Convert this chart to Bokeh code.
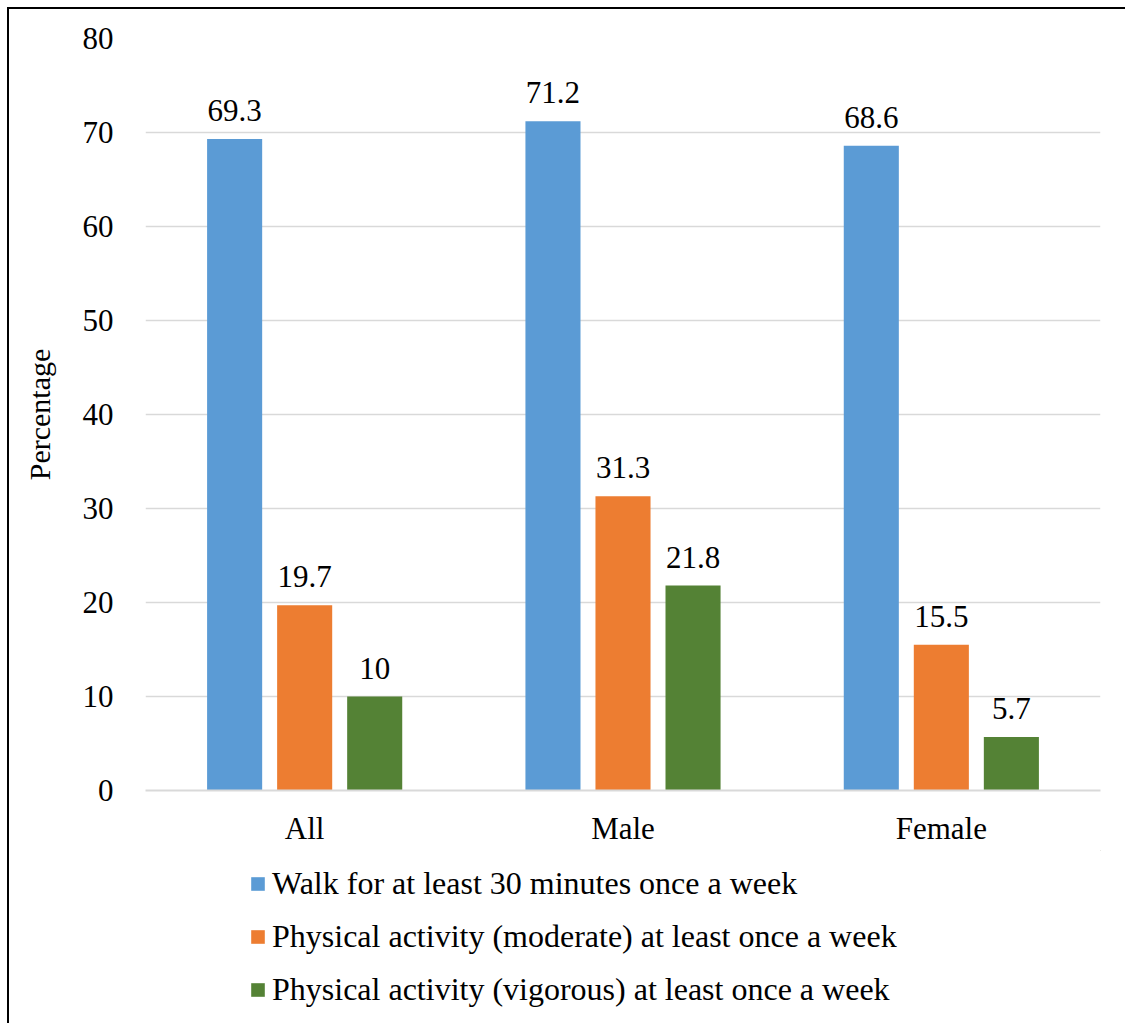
from bokeh.plotting import figure
from bokeh.models import ColumnDataSource, FactorRange, Legend, LegendItem, LabelSet
from bokeh.layouts import column
from bokeh.transform import dodge
from bokeh.embed import file_html
from bokeh.resources import INLINE

categories = ["All", "Male", "Female"]
walk = [69.3, 71.2, 68.6]
moderate = [19.7, 31.3, 15.5]
vigorous = [10, 21.8, 5.7]
series_names = [
    "Walk for at least 30 minutes once a week",
    "Physical activity (moderate) at least once a week",
    "Physical activity (vigorous) at least once a week",
]
colors = ["#5B9BD5", "#ED7D31", "#548235"]
y_ticks = [0, 10, 20, 30, 40, 50, 60, 70, 80]

FONT = "Liberation Serif"
FS = "31px"

OX, OY = 9, 9          # outer border offset
W = 1125 - OX
SPLIT = 850            # where the legend strip starts (page y)
FRAME_LEFT = 145

src = ColumnDataSource(dict(
    cat=categories, walk=walk, moderate=moderate, vigorous=vigorous,
    walk_t=[f"{v:g}" for v in walk],
    moderate_t=[f"{v:g}" for v in moderate],
    vigorous_t=[f"{v:g}" for v in vigorous],
))

p = figure(x_range=FactorRange(*categories), y_range=(0, 80),
           width=W, height=SPLIT - OY, output_backend="svg", toolbar_location=None,
           min_border_left=FRAME_LEFT - OX, min_border_right=25, min_border_top=38 - OY,
           min_border_bottom=SPLIT - 790)
p.x_range.range_padding = 0

offsets = [-0.22, 0.0, 0.22]
keys = ["walk", "moderate", "vigorous"]
for k, off, c in zip(keys, offsets, colors):
    p.vbar(x=dodge("cat", off, range=p.x_range), top=k, width=0.173, source=src,
           fill_color=c, line_color=None)
    labels = LabelSet(x=dodge("cat", off, range=p.x_range), y=k, text=k + "_t", source=src,
                      text_align="center", text_baseline="bottom", y_offset=18,
                      text_font=FONT, text_font_size=FS, text_color="black")
    p.add_layout(labels)

p.yaxis.ticker = y_ticks
p.yaxis.axis_line_color = None
p.yaxis.major_tick_line_color = None
p.yaxis.minor_tick_line_color = None
p.yaxis.major_label_text_font = FONT
p.yaxis.major_label_text_font_size = FS
p.yaxis.major_label_text_color = "black"
p.yaxis.major_label_standoff = 26
p.yaxis.axis_label = "Percentage"
p.yaxis.axis_label_text_font = FONT
p.yaxis.axis_label_text_font_size = "30px"
p.yaxis.axis_label_text_font_style = "normal"
p.yaxis.axis_label_text_color = "black"
p.yaxis.axis_label_standoff = 24

p.xaxis.axis_line_color = "#d9d9d9"
p.xaxis.axis_line_width = 2
p.xaxis.major_tick_line_color = None
p.xaxis.minor_tick_line_color = None
p.xaxis.major_label_text_font = FONT
p.xaxis.major_label_text_font_size = FS
p.xaxis.major_label_text_color = "black"
p.xaxis.major_label_standoff = 14

p.xgrid.grid_line_color = None
p.ygrid.grid_line_color = "#d9d9d9"
p.ygrid.grid_line_width = 1.5
p.outline_line_color = None

# legend strip
LH = 1023 - SPLIT
q = figure(width=W, height=LH, output_backend="svg", toolbar_location=None,
           x_axis_type=None, y_axis_type=None, x_range=(0, 1), y_range=(0, 1),
           min_border=0, outline_line_color=None)
q.xgrid.grid_line_color = None
q.ygrid.grid_line_color = None
swatches = []
for c in colors:
    swatches.append(q.vbar(x=[5], top=[5], bottom=[4], width=0.1, fill_color=c, line_color=None))
legend = Legend(items=[LegendItem(label=n, renderers=[r]) for n, r in zip(series_names, swatches)],
                location=(249 - FRAME_LEFT, 15), orientation="vertical",
                label_text_font=FONT, label_text_font_size="32px", label_text_color="black",
                glyph_width=17, glyph_height=17, label_height=36, spacing=16,
                label_standoff=6, padding=0, margin=0,
                border_line_color=None, background_fill_alpha=0)
q.add_layout(legend, "center")

layout = column(p, q, spacing=0)
layout.styles = {"margin-left": "7px", "margin-top": "7px",
                 "border-left": "2px solid black", "border-top": "2px solid black"}

open("out.html", "w").write(file_html(layout, INLINE))
